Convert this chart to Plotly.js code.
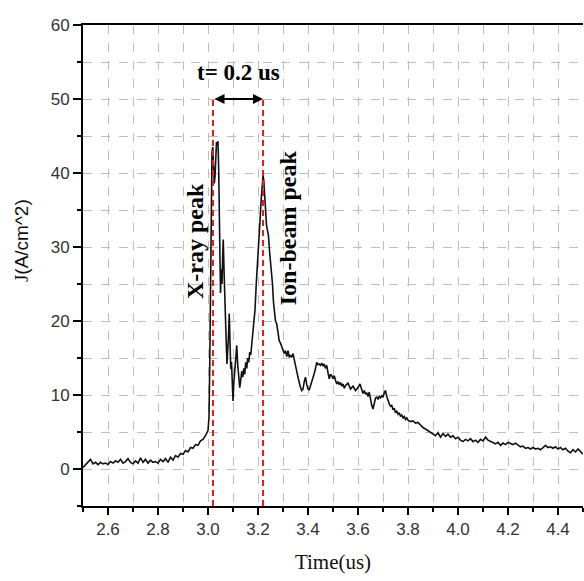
<!DOCTYPE html>
<html>
<head>
<meta charset="utf-8">
<script src="https://cdn.plot.ly/plotly-3.0.1.min.js"></script>
<style>html,body{margin:0;padding:0;background:#fff;}#chart{width:584px;height:581px;}</style>
</head>
<body>
<div id="chart"></div>
<script>
// Time (us)
var timeUs = [
 2.50,2.51,2.52,2.53,2.54,2.55,2.56,2.57,2.58,2.59,
 2.60,2.61,2.62,2.63,2.64,2.65,2.66,2.67,2.68,2.69,
 2.70,2.71,2.72,2.73,2.74,2.75,2.76,2.77,2.78,2.79,
 2.80,2.81,2.82,2.83,2.84,2.85,2.86,2.87,2.88,2.89,
 2.90,2.91,2.92,2.93,2.94,2.95,2.96,2.97,2.98,2.99,
 3.000,3.004,3.007,3.010,3.013,3.016,3.019,3.022,3.025,3.028,
 3.031,3.034,3.037,3.040,3.043,3.046,3.048,3.050,3.053,3.056,
 3.059,3.061,3.064,3.067,3.070,3.073,3.076,3.079,3.082,3.085,
 3.088,3.091,3.094,3.097,3.100,3.103,3.107,3.111,3.115,3.119,
 3.123,3.127,3.131,3.135,3.139,3.143,3.147,3.151,3.155,3.159,
 3.163,3.167,3.171,3.175,3.179,3.183,3.188,3.193,3.198,3.203,
 3.208,3.212,3.216,3.220,3.223,3.226,3.230,3.234,3.238,3.242,
 3.246,3.250,3.254,3.258,3.262,3.266,3.270,3.275,3.280,3.285,
 3.290,3.295,3.300,3.305,3.310,3.315,3.320,3.325,3.330,3.335,
 3.340,3.345,3.350,3.355,3.360,3.365,3.370,3.375,3.380,3.385,
 3.390,3.395,3.400,3.405,3.410,3.415,3.420,3.425,3.430,3.435,
 3.440,3.445,3.450,3.455,3.460,3.465,3.470,3.475,3.480,3.485,
 3.490,3.495,3.500,3.505,3.510,3.515,3.520,3.525,3.530,3.535,
 3.540,3.545,3.550,3.560,3.570,3.580,3.590,3.600,3.608,3.615,
 3.620,3.625,3.630,3.635,3.640,3.645,3.650,3.655,3.660,3.665,
 3.670,3.675,3.680,3.685,3.690,3.695,3.700,3.706,3.710,3.715,
 3.720,3.725,3.730,3.735,3.740,3.745,3.750,3.755,3.760,3.765,
 3.770,3.775,3.780,3.785,3.790,3.795,3.800,
 3.81,3.82,3.83,3.84,3.85,3.86,3.87,3.88,3.89,3.90,
 3.91,3.92,3.93,3.94,3.95,3.96,3.97,3.98,3.99,4.00,
 4.01,4.02,4.03,4.04,4.05,4.06,4.07,4.08,4.09,4.10,
 4.11,4.12,4.13,4.14,4.15,4.16,4.17,4.18,4.19,4.20,
 4.21,4.22,4.23,4.24,4.25,4.26,4.27,4.28,4.29,4.30,
 4.31,4.32,4.33,4.34,4.35,4.36,4.37,4.38,4.39,4.40,
 4.41,4.42,4.43,4.44,4.45,4.46,4.47,4.48,4.49,4.50
];
// Current density J (A/cm^2)
var currentDensity = [
 0.2,0.6,0.9,1.3,0.7,0.9,0.6,0.9,0.7,0.8,
 0.6,1.0,0.8,1.1,0.9,1.3,0.8,1.0,1.4,0.9,
 0.7,1.1,0.8,1.5,0.9,1.3,0.8,1.2,0.9,1.0,
 0.8,1.3,1.0,1.4,0.9,1.6,1.2,1.8,1.6,2.1,
 2.0,2.5,2.3,2.9,2.8,3.3,3.2,3.8,4.0,4.5,
 5.2,7.0,14,27,38,42.8,43.5,40,38.6,39.5,
 42.5,44.2,43.8,44.3,40,33,26,23.8,27,25,
 29,31,27,24.5,22,17,14.2,15.5,18,21,
 16,13.5,14.5,11,9.2,11.5,13,15,16.7,14,
 12.2,11,12,13.2,12.4,13.6,12.8,14.4,13.6,15,
 14.4,15.8,15.4,17,18.5,20,21.5,25,28.5,31.5,
 33.5,36,38.5,39.7,39,37,35,33,32.2,31.5,
 29.5,28,27.5,25,22.5,21,20,19.6,18,17.3,
 17,16.6,16,15.6,16,15.2,16,15.1,15.4,15.1,
 15.6,14.6,13.7,13.2,12.4,11.6,11,10.6,10.8,11.8,
 12.4,11.4,10.8,10.7,11.2,11.8,12.4,12.9,13.6,14.4,
 14.1,14.2,14,14.3,13.9,14.2,13.6,14,13,12.2,
 12.8,12.6,12.2,12.6,12,11.5,11.8,11.4,11.7,11.2,
 11.5,10.9,11.3,11.6,10.8,11.2,10.6,11.0,11.5,10.8,
 10.2,10.6,10.1,10.3,9.8,10.4,9.3,8.6,8.1,9.0,
 9.6,9.7,9.4,9.8,9.6,9.9,9.7,10.4,10.6,9.8,
 9.2,8.8,8.5,8.6,8.0,8.2,7.6,7.8,7.4,7.6,
 7.1,7.3,6.9,7.1,6.7,6.9,6.6,
 6.4,6.5,6.2,6.3,5.9,5.6,5.4,5.2,4.9,4.7,
 4.5,4.9,4.3,4.8,4.4,4.7,4.3,4.5,4.1,4.3,
 3.9,3.7,4.0,3.8,4.1,3.7,3.9,3.6,4.0,3.8,
 4.3,3.9,3.7,3.5,3.4,3.6,3.2,3.5,3.3,3.6,
 3.4,3.3,3.5,3.2,3.0,3.1,2.8,2.9,2.7,2.9,
 2.7,2.8,2.6,2.9,3.2,2.9,3.0,2.8,3.0,2.7,
 2.9,2.6,2.8,2.4,2.2,2.6,2.3,2.7,2.4,2.0
];
// Peak markers
var peakNames = ["X-ray peak", "Ion-beam peak"];
var peakTimes = [3.02, 3.22];
var xTickVals = [2.6,2.8,3.0,3.2,3.4,3.6,3.8,4.0,4.2,4.4];
var xTickText = ["2.6","2.8","3.0","3.2","3.4","3.6","3.8","4.0","4.2","4.4"];
var yTickVals = [0,10,20,30,40,50,60];

var serif = "Liberation Serif, Times New Roman, serif";
var sans = "Liberation Sans, Arial, sans-serif";
var markerTop = 50;
var yMin = -5;

var trace = {
  x: timeUs, y: currentDensity, type: "scatter", mode: "lines",
  line: {color: "#111111", width: 1.6}, showlegend: false, hoverinfo: "x+y"
};

var gridColor = "#bdbdbd";

var layout = {
  width: 584, height: 581,
  margin: {l: 83, r: 1, t: 25, b: 75, pad: 0},
  paper_bgcolor: "#ffffff", plot_bgcolor: "#ffffff",
  showlegend: false,
  xaxis: {
    range: [2.5, 4.5], tickmode: "array", tickvals: xTickVals, ticktext: xTickText,
    ticks: "outside", ticklen: 7, tickwidth: 1.5, tickcolor: "#000",
    showline: true, linecolor: "#000", linewidth: 2, mirror: true,
    showgrid: true, gridcolor: gridColor, griddash: "dash", gridwidth: 1,
    zeroline: false,
    tickfont: {family: sans, size: 17, color: "#333"},
    minor: {dtick: 0.1, tick0: 2.5, ticks: "outside", ticklen: 4, tickwidth: 1.5, tickcolor: "#000",
            showgrid: true, gridcolor: gridColor, griddash: "dash", gridwidth: 1},
    title: {text: "Time(us)", font: {family: serif, size: 21, color: "#111"}, standoff: 16}
  },
  yaxis: {
    range: [yMin, 60], tickmode: "array", tickvals: yTickVals,
    ticks: "outside", ticklen: 8, tickwidth: 1.5, tickcolor: "#000",
    showline: true, linecolor: "#000", linewidth: 2,
    showgrid: true, gridcolor: gridColor, griddash: "dash", gridwidth: 1,
    zeroline: false,
    tickfont: {family: sans, size: 17, color: "#333"},
    minor: {dtick: 5, tick0: 0, ticks: "outside", ticklen: 4, tickwidth: 1.5, tickcolor: "#000",
            showgrid: true, gridcolor: gridColor, griddash: "dash", gridwidth: 1},
    title: {text: ""}
  },
  shapes: peakTimes.map(function (t) {
    return {type: "line", xref: "x", yref: "y", x0: t, x1: t, y0: yMin, y1: markerTop,
            line: {color: "#e02020", width: 2, dash: "6px,4px"}};
  }),
  annotations: [
    {x: 21, xref: "paper", y: 30.8, yref: "y", xshift: 0, showarrow: false, textangle: -90,
     text: "<span style=\"font-family:Liberation Serif, serif\">J</span><span style=\"font-family:Liberation Sans, Arial, sans-serif\">(A/cm^2)</span>",
     font: {family: serif, size: 19, color: "#111"}},
    {x: peakTimes[1], y: markerTop, ax: peakTimes[0], ay: markerTop, xref: "x", yref: "y",
     axref: "x", ayref: "y", text: "", showarrow: true, arrowhead: 2, startarrowhead: 2,
     arrowside: "end+start", arrowsize: 1, arrowwidth: 2, arrowcolor: "#000"},
    {x: (peakTimes[0] + peakTimes[1]) / 2, y: 53.6, xref: "x", yref: "y", showarrow: false,
     text: "<b>t= " + (peakTimes[1] - peakTimes[0]).toFixed(1) + " us</b>",
     font: {family: serif, size: 23, color: "#000"}},
    {x: 2.948, y: 30.8, xref: "x", yref: "y", showarrow: false, textangle: -90,
     text: "<b>" + peakNames[0] + "</b>", font: {family: serif, size: 24, color: "#000"}},
    {x: 3.318, y: 32.6, xref: "x", yref: "y", showarrow: false, textangle: -90,
     text: "<b>" + peakNames[1] + "</b>", font: {family: serif, size: 24, color: "#000"}}
  ]
};
// place y-title annotation in pixel terms relative to the plot's left edge
layout.annotations[0].x = 0;
layout.annotations[0].xanchor = "center";
layout.annotations[0].xshift = -62;

Plotly.newPlot("chart", [trace], layout, {displayModeBar: false, staticPlot: true});
</script>
</body>
</html>
